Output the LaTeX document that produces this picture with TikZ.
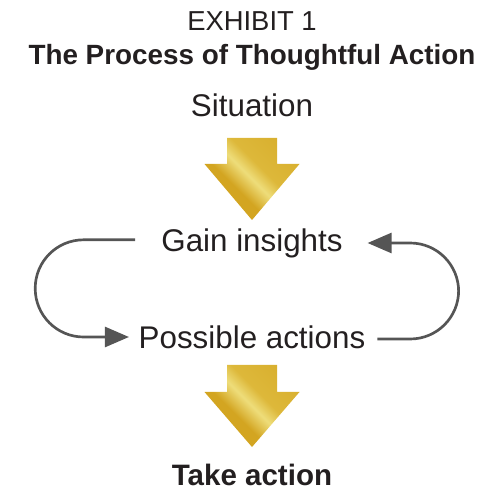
\documentclass[tikz,border=0pt]{standalone}
\usepackage{fontspec}
\setmainfont{Liberation Sans}
\usetikzlibrary{positioning,arrows.meta,calc}
\usepackage{xcolor}
\definecolor{exInk}{HTML}{231F20}
\definecolor{exGray}{HTML}{555555}
\definecolor{goldDark}{HTML}{D3A521}
\definecolor{goldLight}{HTML}{EEDD7A}
\definecolor{goldMid}{HTML}{DDB83A}
\pgfdeclarehorizontalshading{goldshade}{100bp}{color(0bp)=(goldDark); color(40bp)=(goldDark); color(50bp)=(goldLight); color(58bp)=(goldMid); color(100bp)=(goldDark)}

\begin{document}
\begin{tikzpicture}[
      label/.style={font=\fontsize{22.3}{26}\selectfont\color{exInk}},
      heading/.style={font=\fontsize{19.8}{24}\selectfont\bfseries\color{exInk}},
      goldfill/.style={shading=goldshade,shading angle=45,draw=none},
      loop/.style={-{Triangle[length=0.6cm,width=0.5cm]},line width=1.9pt,exGray,
                  rounded corners=1.21cm}]
    \useasboundingbox (0,0) rectangle (12.35,12.575);
    \node[font=\fontsize{19.5}{24}\selectfont\color{exInk}] (exh) at (6.3,12.05) {EXHIBIT 1};
    \node[heading] (ttl) at (6.3,11.15) {The Process of Thoughtful Action};
    \node[label] (sit) at (6.3,9.95) {Situation};
    \node[label] (gain) at (6.3,6.5) {Gain insights};
    \node[label] (poss) at (6.3,4.15) {Possible actions};
    \node[font=\fontsize{21}{26}\selectfont\bfseries\color{exInk}] (take) at (6.3,0.7) {Take action};
    % gold block arrows
    \coordinate (a1) at (6.3,9.125);
    \coordinate (a2) at (6.3,3.45);
    \shade[goldfill] (a1) ++(-0.625,0) -- ++(1.25,0) -- ++(0,-0.65) -- ++(0.5625,0)
      -- ++(-1.1875,-1.4) -- ++(-1.1875,1.4) -- ++(0.5625,0) -- cycle;
    \shade[goldfill] (a2) ++(-0.625,0) -- ++(1.25,0) -- ++(0,-0.675) -- ++(0.5625,0)
      -- ++(-1.1875,-1.375) -- ++(-1.1875,1.375) -- ++(0.5625,0) -- cycle;
    % loop between the two steps
    \draw[loop] ([xshift=-0.53cm,yshift=0.08cm]gain.west) -- ++(-2.5,0) |- ([xshift=-0.12cm]poss.west);
    \draw[loop] ([xshift=0.18cm,yshift=-0.05cm]poss.east) -- ++(2.03,0) |- ([xshift=0.5cm]gain.east);
\end{tikzpicture}
\end{document}
